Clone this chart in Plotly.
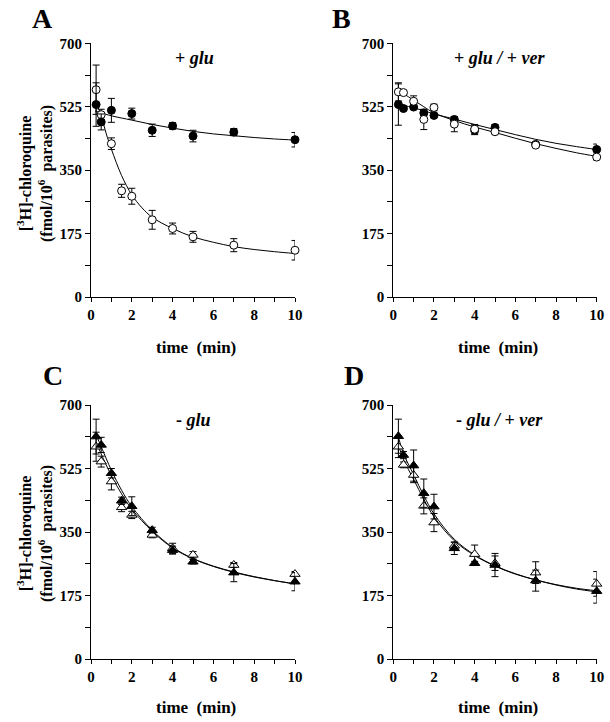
import plotly.graph_objects as go

# ---------------- data ----------------
t_pts = [0.25, 0.5, 1, 1.5, 2, 3, 4, 5, 7, 10]
t_pts_A_filled = [0.25, 0.5, 1, 2, 3, 4, 5, 7, 10]

# Panel A (+ glu)
A_filled = [531, 483, 515, 506, 460, 472, 444, 455, 434]
A_filled_err = [60, 22, 33, 15, 17, 9, 16, 10, 20]
A_open = [572, 503, 423, 293, 278, 213, 189, 166, 143, 129]
A_open_err = [68, 15, 16, 18, 22, 26, 15, 15, 18, 27]

# Panel B (+ glu / + ver)
B_filled = [531, 520, 524, 508, 501, 490, 460, 468, 421, 407]
B_filled_err = [57, 5, 5, 6, 6, 7, 12, 8, 5, 15]
B_open = [566, 564, 540, 490, 523, 477, 463, 456, 419, 386]
B_open_err = [25, 6, 15, 28, 9, 21, 13, 6, 5, 8]

# Panel C (- glu)
C_filled = [613, 590, 512, 436, 421, 355, 300, 268, 238, 213]
C_filled_err = [48, 21, 13, 10, 26, 8, 11, 6, 25, 25]
C_open = [585, 544, 489, 418, 397, 342, 305, 287, 259, 234]
C_open_err = [40, 15, 23, 12, 10, 8, 14, 9, 7, 7]

# Panel D (- glu / + ver)
D_filled = [614, 562, 533, 457, 420, 305, 264, 259, 216, 187]
D_filled_err = [47, 10, 43, 39, 34, 17, 5, 32, 29, 33]
D_open = [585, 535, 507, 422, 376, 312, 289, 264, 238, 207]
D_open_err = [30, 8, 21, 22, 25, 10, 25, 20, 30, 34]

# fitted curves
fitA_f_t = [0.2, 0.5, 1, 2, 3, 4, 5, 6, 7, 8, 9, 10]
fitA_f_v = [513, 508, 500, 488, 476, 466, 457, 450, 445, 440, 436, 433]
fitA_o_t = [0.3, 0.5, 0.75, 1, 1.5, 2, 2.5, 3, 4, 5, 6, 7, 8, 9, 10]
fitA_o_v = [530, 500, 450, 408, 335, 282, 246, 220, 189, 166, 151, 139, 131, 125, 120]

fit_t = [0.25, 0.5, 1, 1.5, 2, 3, 4, 5, 6, 7, 8, 9, 10]
fitB_f_v = [532, 529, 522, 514, 505, 491, 476, 462, 448, 435, 424, 415, 407]
fitB_o_v = [568, 561, 543, 525, 508, 487, 469, 454, 438, 423, 410, 398, 388]
fitC_f_v = [618, 585, 520, 465, 420, 355, 308, 277, 256, 240, 227, 216, 207]
fitC_o_v = [598, 565, 505, 455, 413, 352, 306, 276, 255, 239, 226, 216, 207]
fitD_f_v = [612, 566, 508, 450, 400, 330, 287, 257, 235, 218, 204, 193, 185]
fitD_o_v = [590, 550, 495, 440, 392, 326, 285, 256, 234, 218, 205, 195, 188]

y_ticks = [0, 175, 350, 525, 700]
x_ticks = [0, 2, 4, 6, 8, 10]

# ---------------- layout geometry ----------------
W, H = 610, 722
xdom_left = [91 / W, 295 / W]
xdom_right = [393.3 / W, 596.7 / W]
ydom_top = [1 - 297 / H, 1 - 43.3 / H]
ydom_bot = [1 - 659 / H, 1 - 405 / H]

FONT = "Liberation Serif, Times New Roman, Times, serif"

fig = go.Figure()


def add_fit(tx, vy, ax):
    fig.add_trace(go.Scatter(
        x=tx, y=vy, mode="lines", line=dict(color="black", width=1, shape="spline", smoothing=1.0),
        xaxis="x" + ax, yaxis="y" + ax, showlegend=False, hoverinfo="skip"))


def add_pts(tx, vy, err, ax, symbol, filled):
    fig.add_trace(go.Scatter(
        x=tx, y=vy, mode="markers",
        marker=dict(symbol=symbol, size=9 if "triangle" in symbol else 8,
                    color="black" if filled else "white",
                    line=dict(color="black", width=1)),
        error_y=dict(type="data", array=err, visible=True, color="black", thickness=1, width=3.5),
        xaxis="x" + ax, yaxis="y" + ax, showlegend=False, cliponaxis=False))


# Panel A -> axis suffix "" ; B -> "2"; C -> "3"; D -> "4"
add_fit(fitA_f_t, fitA_f_v, "")
add_fit(fitA_o_t, fitA_o_v, "")
add_pts(t_pts, A_open, A_open_err, "", "circle", False)
add_pts(t_pts_A_filled, A_filled, A_filled_err, "", "circle", True)

add_fit(fit_t, fitB_f_v, "2")
add_fit(fit_t, fitB_o_v, "2")
add_pts(t_pts, B_filled, B_filled_err, "2", "circle", True)
add_pts(t_pts, B_open, B_open_err, "2", "circle", False)

add_fit(fit_t, fitC_f_v, "3")
add_fit(fit_t, fitC_o_v, "3")
add_pts(t_pts, C_open, C_open_err, "3", "triangle-up", False)
add_pts(t_pts, C_filled, C_filled_err, "3", "triangle-up", True)

add_fit(fit_t, fitD_f_v, "4")
add_fit(fit_t, fitD_o_v, "4")
add_pts(t_pts, D_open, D_open_err, "4", "triangle-up", False)
add_pts(t_pts, D_filled, D_filled_err, "4", "triangle-up", True)

tickfont = dict(family=FONT, size=15, color="black")


def xaxis(domain, anchor):
    return dict(domain=domain, anchor=anchor, range=[0, 10], tickvals=x_ticks,
                ticktext=["<b>%d</b>" % v for v in x_ticks],
                showline=True, linecolor="black", linewidth=1, ticks="outside",
                ticklen=4, tickwidth=1, tickcolor="black", showgrid=False, zeroline=False,
                minor=dict(dtick=1, tick0=0, ticks="outside", ticklen=4, tickwidth=1, tickcolor="black", showgrid=False),
                tickfont=tickfont, fixedrange=True, automargin=False)


def yaxis(domain, anchor):
    return dict(domain=domain, anchor=anchor, range=[0, 700], tickvals=y_ticks,
                ticktext=["<b>%d</b>" % v for v in y_ticks],
                showline=True, linecolor="black", linewidth=1, ticks="outside",
                ticklen=5, tickwidth=1, tickcolor="black", showgrid=False, zeroline=False,
                minor=dict(dtick=87.5, tick0=0, ticks="outside", ticklen=5, tickwidth=1, tickcolor="black", showgrid=False),
                tickfont=tickfont, fixedrange=True, automargin=False)


fig.update_layout(
    width=W, height=H,
    margin=dict(l=0, r=0, t=0, b=0, autoexpand=False),
    font=dict(family=FONT, color="black"),
    paper_bgcolor="white", plot_bgcolor="white",
    xaxis=xaxis(xdom_left, "y"), yaxis=yaxis(ydom_top, "x"),
    xaxis2=xaxis(xdom_right, "y2"), yaxis2=yaxis(ydom_top, "x2"),
    xaxis3=xaxis(xdom_left, "y3"), yaxis3=yaxis(ydom_bot, "x3"),
    xaxis4=xaxis(xdom_right, "y4"), yaxis4=yaxis(ydom_bot, "x4"),
)

ann = []
# panel letters
for letter, px, py in [("A", 42, 19), ("B", 341, 19), ("C", 53, 375), ("D", 354, 375)]:
    ann.append(dict(text="<b>" + letter + "</b>", x=px / W, y=1 - py / H, xref="paper", yref="paper",
                    xanchor="center", yanchor="middle", showarrow=False,
                    font=dict(family=FONT, size=28, color="black")))
# panel conditions
conds = [("<b>+ <i>glu</i></b>", 194, 58), ("<b>+ <i>glu / </i>+ <i>ver</i></b>", 500, 58),
         ("<b>- <i>glu</i></b>", 193, 420), ("<b>- <i>glu / </i>+ <i>ver</i></b>", 499, 420)]
for txt, px, py in conds:
    ann.append(dict(text=txt, x=px / W, y=1 - py / H, xref="paper", yref="paper",
                    xanchor="center", yanchor="middle", showarrow=False,
                    font=dict(family=FONT, size=18, color="black")))
# x-axis titles
for px, py in [(196, 347), (498, 347), (196, 707), (498, 707)]:
    ann.append(dict(text="<b>time  (min)</b>", x=px / W, y=1 - py / H, xref="paper", yref="paper",
                    xanchor="center", yanchor="middle", showarrow=False,
                    font=dict(family=FONT, size=17, color="black")))
# y-axis titles
ytitle = "<b>[<sup>3</sup>H]-chloroquine<br>(fmol/10<sup>6</sup>  parasites)</b>"
for py in [174, 534]:
    ann.append(dict(text=ytitle, x=35 / W, y=1 - py / H, xref="paper", yref="paper",
                    xanchor="center", yanchor="middle", showarrow=False, textangle=-90,
                    font=dict(family=FONT, size=16, color="black")))
fig.update_layout(annotations=ann)

fig.write_html(
    "out.html",
    config={"displayModeBar": False},
    post_script="document.body.style.margin='0';document.body.style.padding='0';"
                "document.body.style.overflow='hidden';",
)
